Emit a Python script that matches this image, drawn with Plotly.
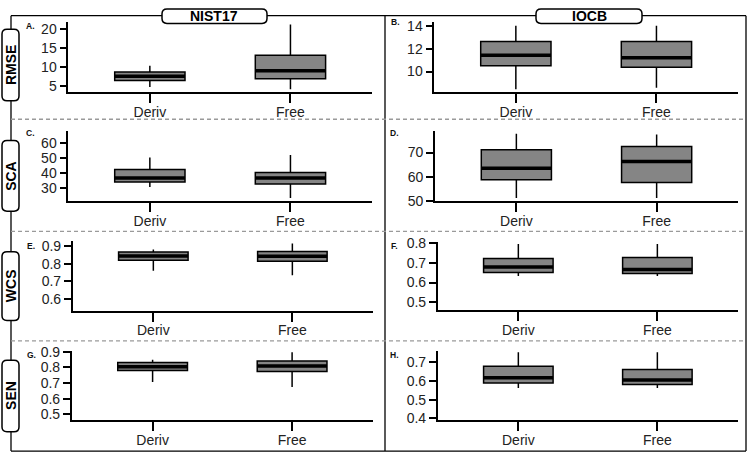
import plotly.graph_objects as go

W, H = 750, 462
FONT = "Liberation Sans, Arial, sans-serif"
GRAY = "#858585"

# ---------------- data ----------------
categories = ["Deriv", "Free"]
positions = [1, 2]
libraries = ["NIST17", "IOCB"]
metrics = ["RMSE", "SCA", "WCS", "SEN"]
panel_letters = ["A.", "B.", "C.", "D.", "E.", "F.", "G.", "H."]

# RMSE / NIST17
rmse_nist_lo = [4.75, 4.16]
rmse_nist_q1 = [6.45, 6.88]
rmse_nist_med = [7.54, 8.98]
rmse_nist_q3 = [8.65, 13.05]
rmse_nist_hi = [10.3, 21.1]
# RMSE / IOCB
rmse_iocb_lo = [8.43, 8.57]
rmse_iocb_q1 = [10.51, 10.37]
rmse_iocb_med = [11.43, 11.23]
rmse_iocb_q3 = [12.65, 12.65]
rmse_iocb_hi = [14.06, 14.06]
# SCA / NIST17
sca_nist_lo = [30.5, 23.1]
sca_nist_q1 = [33.9, 32.4]
sca_nist_med = [36.5, 36.5]
sca_nist_q3 = [42.2, 40.2]
sca_nist_hi = [50.4, 52.0]
# SCA / IOCB
sca_iocb_lo = [51.3, 51.3]
sca_iocb_q1 = [58.8, 57.7]
sca_iocb_med = [63.5, 66.3]
sca_iocb_q3 = [71.2, 72.5]
sca_iocb_hi = [77.7, 77.4]
# WCS / NIST17
wcs_nist_lo = [0.760, 0.735]
wcs_nist_q1 = [0.820, 0.815]
wcs_nist_med = [0.844, 0.843]
wcs_nist_q3 = [0.867, 0.870]
wcs_nist_hi = [0.881, 0.916]
# WCS / IOCB
wcs_iocb_lo = [0.633, 0.633]
wcs_iocb_q1 = [0.651, 0.646]
wcs_iocb_med = [0.679, 0.667]
wcs_iocb_q3 = [0.723, 0.728]
wcs_iocb_hi = [0.797, 0.797]
# SEN / NIST17
sen_nist_lo = [0.706, 0.675]
sen_nist_q1 = [0.780, 0.773]
sen_nist_med = [0.804, 0.808]
sen_nist_q3 = [0.831, 0.840]
sen_nist_hi = [0.848, 0.896]
# SEN / IOCB
sen_iocb_lo = [0.562, 0.562]
sen_iocb_q1 = [0.588, 0.580]
sen_iocb_med = [0.617, 0.605]
sen_iocb_q3 = [0.678, 0.660]
sen_iocb_hi = [0.752, 0.752]

# y tick labels per panel
ticks_a = [5, 10, 15, 20]
ticks_b = [10, 12, 14]
ticks_c = [30, 40, 50, 60]
ticks_d = [50, 60, 70]
ticks_e = [0.6, 0.7, 0.8, 0.9]
ticks_f = [0.5, 0.6, 0.7, 0.8]
ticks_g = [0.5, 0.6, 0.7, 0.8, 0.9]
ticks_h = [0.4, 0.5, 0.6, 0.7]

# y ranges per panel
range_a = [3.32, 21.9]
range_b = [8.15, 14.34]
range_c = [20.7, 68.1]
range_d = [49.9, 78.8]
range_e = [0.532, 0.931]
range_f = [0.459, 0.805]
range_g = [0.463, 0.906]
range_h = [0.391, 0.760]

panels = [
    (rmse_nist_lo, rmse_nist_q1, rmse_nist_med, rmse_nist_q3, rmse_nist_hi, ticks_a, range_a),
    (rmse_iocb_lo, rmse_iocb_q1, rmse_iocb_med, rmse_iocb_q3, rmse_iocb_hi, ticks_b, range_b),
    (sca_nist_lo, sca_nist_q1, sca_nist_med, sca_nist_q3, sca_nist_hi, ticks_c, range_c),
    (sca_iocb_lo, sca_iocb_q1, sca_iocb_med, sca_iocb_q3, sca_iocb_hi, ticks_d, range_d),
    (wcs_nist_lo, wcs_nist_q1, wcs_nist_med, wcs_nist_q3, wcs_nist_hi, ticks_e, range_e),
    (wcs_iocb_lo, wcs_iocb_q1, wcs_iocb_med, wcs_iocb_q3, wcs_iocb_hi, ticks_f, range_f),
    (sen_nist_lo, sen_nist_q1, sen_nist_med, sen_nist_q3, sen_nist_hi, ticks_g, range_g),
    (sen_iocb_lo, sen_iocb_q1, sen_iocb_med, sen_iocb_q3, sen_iocb_hi, ticks_h, range_h),
]

# ---------------- layout geometry (pixels) ----------------
# (x_left, x_right, y_top, y_bottom) of each plot region
regions = [
    (68.3, 372, 15, 88.3), (434.3, 738, 16, 88.3),
    (68.3, 372, 128.3, 201), (435, 738, 128.3, 201),
    (72.7, 373, 241.7, 314), (437.7, 738, 243.3, 313.3),
    (71.7, 373, 355.3, 427), (437.7, 738, 355.3, 427),
]
letter_pos = [(30.5, 19.7), (395.5, 15.5), (30.8, 130), (394, 130),
              (30.8, 246.7), (394.3, 246.7), (31.7, 359.8), (395, 359.5)]

BOX_W = 0.5

fig = go.Figure()
layout = dict(
    width=W, height=H, margin=dict(l=0, r=0, t=0, b=0),
    paper_bgcolor="white", plot_bgcolor="rgba(0,0,0,0)",
    showlegend=False, font=dict(family=FONT, color="#222"),
)
shapes = []
annotations = []


def px(x):
    return x / W


def py(y):
    return 1 - y / H


for i, (lo, q1, med, q3, hi, tv, yr) in enumerate(panels):
    n = i + 1
    xa = "x" if n == 1 else f"x{n}"
    ya = "y" if n == 1 else f"y{n}"
    x0, x1, yt, yb = regions[i]
    fig.add_trace(go.Box(
        x=positions, lowerfence=lo, q1=q1, median=med, q3=q3, upperfence=hi,
        width=BOX_W, fillcolor=GRAY, line=dict(color="black", width=1.5),
        whiskerwidth=0, boxpoints=False, xaxis=xa, yaxis=ya, hoverinfo="skip",
    ))
    for p, m in zip(positions, med):
        shapes.append(dict(type="line", xref=xa, yref=ya,
                           x0=p - BOX_W / 2, x1=p + BOX_W / 2, y0=m, y1=m,
                           line=dict(color="black", width=3.5)))
    axis_common = dict(showline=True, linecolor="black", linewidth=1.6,
                       ticks="outside", tickwidth=1.5, tickcolor="black",
                       showgrid=False, zeroline=False, fixedrange=True,
                       tickfont=dict(size=14, color="#222", family=FONT))
    layout["xaxis" if n == 1 else f"xaxis{n}"] = dict(
        domain=[px(x0), px(x1)], anchor=ya, range=[0.42, 2.58],
        tickvals=positions, ticktext=categories, ticklen=9,
        ticklabelstandoff=-3, **axis_common)
    layout["yaxis" if n == 1 else f"yaxis{n}"] = dict(
        domain=[py(yb), py(yt)], anchor=xa, range=yr,
        tickvals=tv, ticklen=7, **axis_common)
    lx, ly = letter_pos[i]
    annotations.append(dict(text=f"<b>{panel_letters[i]}</b>", x=px(lx), y=py(ly),
                            xref="paper", yref="paper", showarrow=False,
                            xanchor="center", yanchor="middle",
                            font=dict(size=8.5, color="#111", family=FONT)))

# frame
FL, FR, FT, FB, FMID = 11, 746, 9, 459, 385
for (a, b, c, d) in [(FL, FT, FL, FB), (FL, FB, FR, FB), (FR, FT, FR, FB),
                     (FL, FT, FR, FT), (FMID, FT, FMID, FB)]:
    shapes.append(dict(type="line", xref="paper", yref="paper",
                       x0=px(a), y0=py(b), x1=px(c), y1=py(d),
                       line=dict(color="black", width=1.3)))
for yy in [116, 232, 345]:
    shapes.append(dict(type="line", xref="paper", yref="paper",
                       x0=px(FL), y0=py(yy), x1=px(FR), y1=py(yy),
                       line=dict(color="#9a9a9a", width=1.3, dash="4px,3px")))


def rrect(x0, y0, x1, y1, r):
    def P(x, y):
        return f"{px(x):.5f},{py(y):.5f}"
    return (f"M {P(x0 + r, y0)} L {P(x1 - r, y0)} Q {P(x1, y0)} {P(x1, y0 + r)} "
            f"L {P(x1, y1 - r)} Q {P(x1, y1)} {P(x1 - r, y1)} "
            f"L {P(x0 + r, y1)} Q {P(x0, y1)} {P(x0, y1 - r)} "
            f"L {P(x0, y0 + r)} Q {P(x0, y0)} {P(x0 + r, y0)} Z")


strip_boxes = [(162, 2, 267, 17), (536, 2, 642, 17)]
for (a, b, c, d), lab in zip(strip_boxes, libraries):
    shapes.append(dict(type="path", xref="paper", yref="paper", path=rrect(a, b, c, d, 5),
                       fillcolor="white", line=dict(color="black", width=1.5)))
    annotations.append(dict(text=f"<b>{lab}</b>", x=px((a + c) / 2), y=py((b + d) / 2 + 0.3),
                            xref="paper", yref="paper", showarrow=False,
                            xanchor="center", yanchor="middle",
                            font=dict(size=14, color="black", family=FONT)))

row_boxes = [(2, 23, 19, 97), (2, 138, 19, 211), (2, 253, 19, 324), (2, 365, 19, 439)]
for (a, b, c, d), lab in zip(row_boxes, metrics):
    shapes.append(dict(type="path", xref="paper", yref="paper", path=rrect(a, b, c, d, 5),
                       fillcolor="white", line=dict(color="black", width=1.5)))
    annotations.append(dict(text=f"<b>{lab}</b>", x=px((a + c) / 2 + 0.5), y=py((b + d) / 2),
                            xref="paper", yref="paper", showarrow=False, textangle=-90,
                            xanchor="center", yanchor="middle",
                            font=dict(size=14, color="black", family=FONT)))

layout["shapes"] = shapes
layout["annotations"] = annotations
fig.update_layout(**layout)
fig.write_html("out.html")
